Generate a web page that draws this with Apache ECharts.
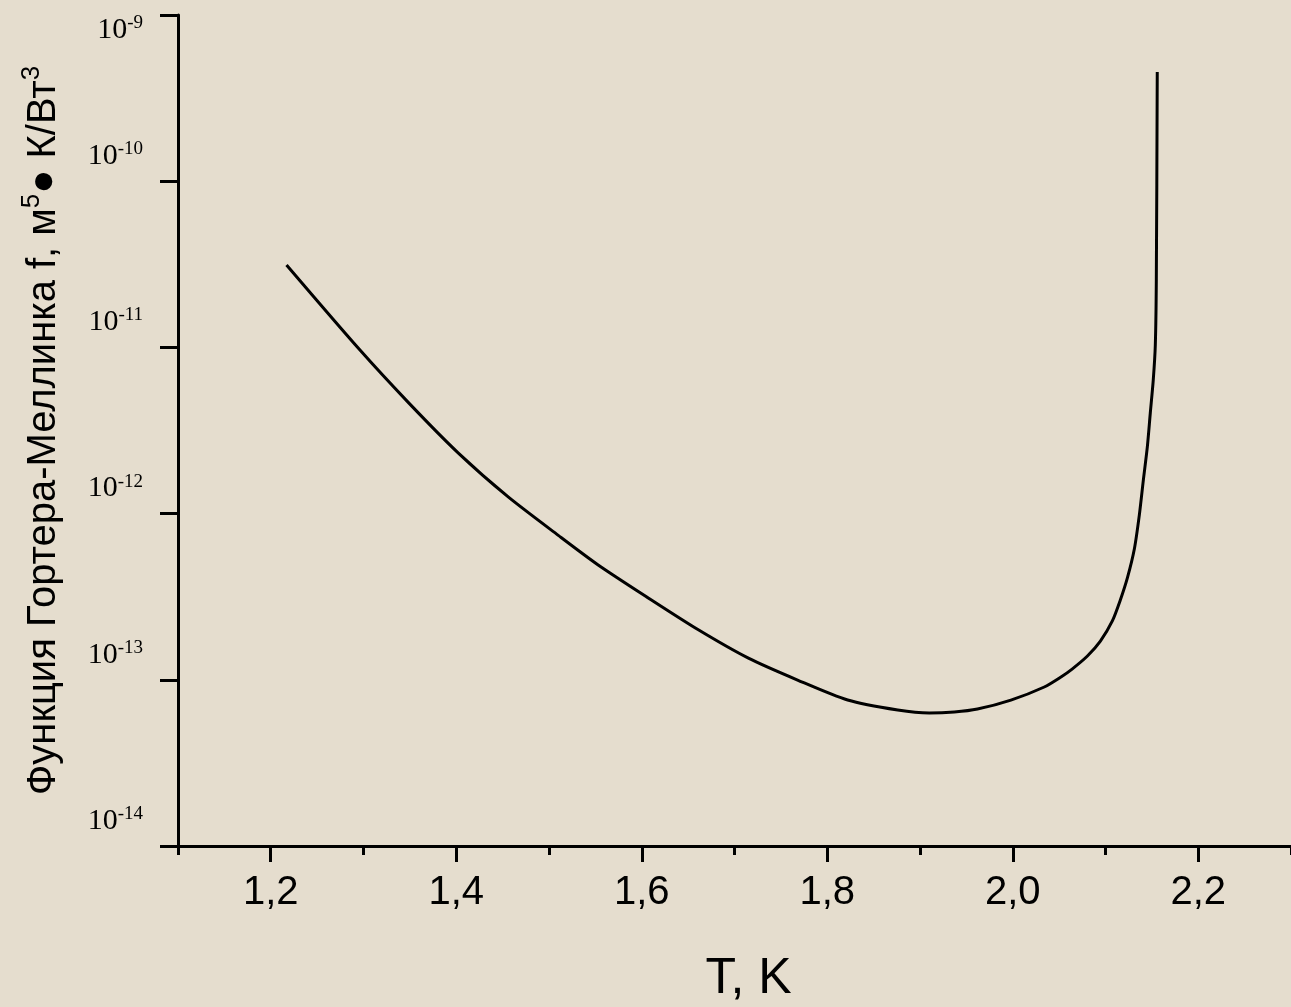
<!DOCTYPE html>
<html>
<head>
<meta charset="utf-8">
<script src="https://cdn.jsdelivr.net/npm/echarts@6/dist/echarts.min.js"></script>
<style>
    html, body { margin: 0; padding: 0; background: #e5ddce; }
    #chart { width: 1291px; height: 1007px; }
</style>
</head>
<body>
<div id="chart"></div>
<script>
// Gorter-Mellink function vs temperature
const temperature = [
    1.217, 1.295, 1.349, 1.402, 1.456, 1.510, 1.553, 1.607, 1.661, 1.715,
    1.768, 1.822, 1.876, 1.910, 1.937, 1.962, 1.998, 2.034, 2.052, 2.064,
    2.0805, 2.0945, 2.1074, 2.1160, 2.1236, 2.1311, 2.1365, 2.1408, 2.1451, 2.1483,
    2.1515, 2.1537, 2.1548, 2.1558
]
const gorterMellink = [
    3.13e-11, 9.8e-12, 4.62e-12, 2.32e-12, 1.26e-12, 7.4e-13, 4.91e-13, 3.11e-13, 2.00e-13, 1.35e-13,
    9.97e-14, 7.56e-14, 6.58e-14, 6.31e-14, 6.40e-14, 6.67e-14, 7.55e-14, 9.05e-14, 1.04e-13, 1.16e-13,
    1.39e-13, 1.71e-13, 2.26e-13, 3.02e-13, 4.10e-13, 6.12e-13, 9.82e-13, 1.59e-12, 2.52e-12, 4.03e-12,
    6.37e-12, 1.03e-11, 2.55e-11, 4.54e-10
]
const majorTicksX = [1.2, 1.4, 1.6, 1.8, 2.0, 2.2]
const minorTicksX = [1.1, 1.3, 1.5, 1.7, 1.9, 2.1, 2.3]

const chart = echarts.init(document.getElementById('chart'))

const axisColor = '#000'
const sans = "'Liberation Sans', Arial, sans-serif"
const serif = "'Liberation Serif', 'Times New Roman', serif"

chart.setOption({
    backgroundColor: '#e5ddce',
    animation: false,
    grid: { left: 178, right: 0, top: 15, bottom: 161, outerBoundsMode: 'none' },
    xAxis: [
        {
            type: 'value',
            min: 1.1,
            max: 2.3,
            name: 'T, K',
            nameLocation: 'middle',
            nameGap: 108,
            nameTextStyle: { color: '#000', fontFamily: sans, fontSize: 50, padding: [0, 0, 0, 28] },
            axisLine: { lineStyle: { color: axisColor, width: 3 } },
            axisTick: { customValues: majorTicksX, length: 16, lineStyle: { color: axisColor, width: 3 } },
            axisLabel: {
                customValues: majorTicksX,
                margin: 27,
                color: '#000',
                fontFamily: sans,
                fontSize: 40,
                formatter: v => v.toFixed(1).replace('.', ',')
            },
            splitLine: { show: false }
        },
        {
            type: 'value',
            min: 1.1,
            max: 2.3,
            position: 'bottom',
            axisLine: { show: false },
            axisTick: { customValues: minorTicksX, length: 9, lineStyle: { color: axisColor, width: 3 } },
            axisLabel: { show: false },
            splitLine: { show: false }
        }
    ],
    yAxis: {
        type: 'log',
        logBase: 10,
        min: 1e-14,
        max: 1e-9,
        name: '{n|Функция Гортера-Меллинка f, м}{sup|5}{n|● К/Вт}{sup|3}',
        nameLocation: 'middle',
        nameGap: 109,
        nameTextStyle: {
            rich: {
                n: { fontFamily: sans, fontSize: 40, color: '#000' },
                sup: { fontFamily: sans, fontSize: 26, color: '#000', padding: [0, 0, 24, 0] }
            }
        },
        axisLine: { lineStyle: { color: axisColor, width: 3 } },
        axisTick: { length: 18, lineStyle: { color: axisColor, width: 3 } },
        minorTick: { show: false },
        splitLine: { show: false },
        axisLabel: {
            margin: 35,
            formatter: v => {
                const e = Math.round(Math.log10(v))
                // top label sits under its tick, the rest above
                if (e === -9) return '{gapT| }\n{b|10}{s|' + e + '}'
                return '{b|10}{s|' + e + '}\n{gap| }'
            },
            rich: {
                b: { fontFamily: serif, fontSize: 30, color: '#000', height: 30 },
                s: { fontFamily: serif, fontSize: 19, color: '#000', padding: [0, 0, 14, 0] },
                gap: { height: 50, fontSize: 10 },
                gapT: { height: 30, fontSize: 10 }
            }
        }
    },
    series: [
        {
            type: 'line',
            data: temperature.map((t, i) => [t, gorterMellink[i]]),
            showSymbol: false,
            smooth: 0.25,
            lineStyle: { color: '#000', width: 3 }
        }
    ]
})
</script>
</body>
</html>
